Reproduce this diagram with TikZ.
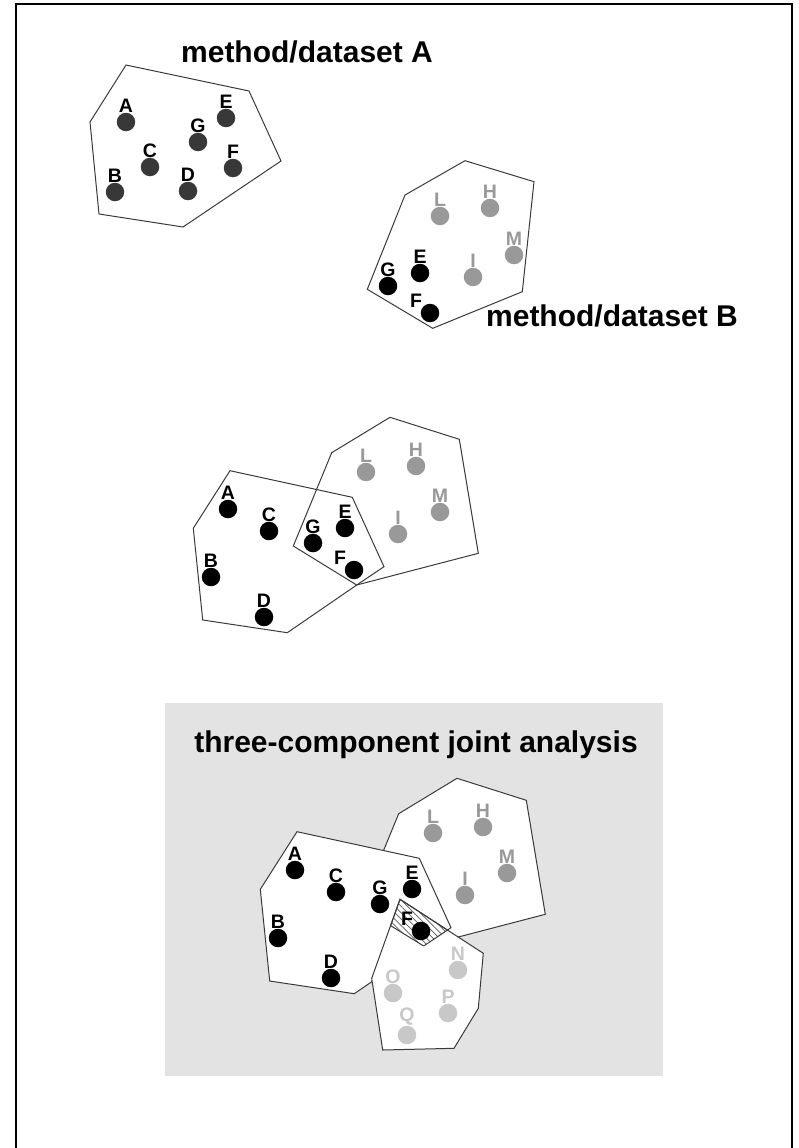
\documentclass[tikz,border=0pt]{standalone}
\usepackage{fontspec}
\setmainfont{Liberation Sans}
\usetikzlibrary{patterns.meta}
\definecolor{dotdark}{HTML}{383838}
\definecolor{dotmid}{HTML}{999999}
\definecolor{dotlight}{HTML}{C8C8C8}
\definecolor{panel}{HTML}{E3E3E3}
\definecolor{edge}{HTML}{3A3A3A}
\tikzstyle{hull} = [draw=edge, line width=1pt]
\tikzstyle{dot}  = [circle, minimum size=18.5pt, inner sep=0pt]
\tikzstyle{dotk} = [dot, fill=black]
\tikzstyle{dotd} = [dot, fill=dotdark]
\tikzstyle{dotg} = [dot, fill=dotmid]
\tikzstyle{dotl} = [dot, fill=dotlight]
\tikzstyle{lbl}  = [font=\bfseries\fontsize{19.5}{22}\selectfont, inner sep=0pt]
\tikzstyle{title} = [font=\bfseries\fontsize{30}{36}\selectfont, inner sep=0pt, anchor=base]
\tikzstyle{hatch} = [pattern={Lines[angle=-45, distance=4.5pt, line width=0.7pt]}, pattern color=black!65]

% hulls of the joint figure (middle panel frame)
\newcommand{\hullA}{(230,470.7) -- (352.3,497.3) -- (384,566.7) -- (356.7,585) -- (287.3,632.7) -- (202.7,620) -- (193.3,528.3) -- cycle}
\newcommand{\hullB}{(390,417.3) -- (459.3,439.3) -- (478.3,553.3) -- (356.7,585) -- (293.3,546) -- (331.7,452.7) -- cycle}
\newcommand{\hullC}{(333,538.3) -- (416.3,592.3) -- (411.3,647.3) -- (387,687.3) -- (315.7,689) -- (304.7,617.3) -- cycle}

\begin{document}
\begin{tikzpicture}[x=1pt, y=-1pt]

	\useasboundingbox (0,0) rectangle (798,1148);
	\draw[line width=1.3pt] (16,1148) -- (16,4) -- (792,4) -- (792,1148);

	% method A
	\node[title] (titleA) at (307,63) {method/dataset A};
	\draw[hull] (126,65) -- (249,91) -- (281,161) -- (183,227) -- (99,214) -- (90,122) -- cycle;
	\foreach \n/\x/\y in {A/126/122, E/226/118, G/198/142, C/150/167, F/233/168, B/115/192, D/188/191}
		\node[dotd, label={[lbl]above:\n}] (t\n) at (\x,\y) {};

	% method B
	\node[title] (titleB) at (612,326) {method/dataset B};
	\draw[hull] (465,160.7) -- (534,181.7) -- (522.3,291.7) -- (432.7,328.3) -- (367.3,289.3) -- (405,195) -- cycle;
	\foreach \n/\x/\y in {L/440/216, H/490/208, M/514/255, I/473/277}
		\node[dotg, label={[lbl, dotmid]above:\n}] (u\n) at (\x,\y) {};
	\foreach \n/\x/\y in {E/420/273, G/388/286}
		\node[dotk, label={[lbl]above:\n}] (u\n) at (\x,\y) {};
	\node[dotk, label={[lbl]145:F}] (uF) at (430,313) {};

	% overlap of A and B
	\draw[hull] \hullA;
	\draw[hull] \hullB;
	\foreach \n/\x/\y in {A/228/509, C/269/531, G/313/543, E/345/528, B/211/577, D/264/617}
		\node[dotk, label={[lbl]above:\n}] (m\n) at (\x,\y) {};
	\node[dotk, label={[lbl]145:F}] (mF) at (354,570) {};
	\foreach \n/\x/\y in {L/366/472, H/416/466, M/440/512, I/398/534}
		\node[dotg, label={[lbl, dotmid]above:\n}] (m\n) at (\x,\y) {};

	% three-component joint analysis
	\fill[panel] (165,703) rectangle (663,1076);
	\node[title] (titleJ) at (416,752) {three-component joint analysis};
	\begin{scope}[shift={(67,361)}]
		\draw[hull, fill=white] \hullB;
		\draw[hull, fill=white] \hullA;
		\draw[hull, fill=white] \hullC;
		\begin{scope}
			\clip \hullA; \clip \hullB;
			\fill[hatch] \hullC;
			\draw[hull] \hullC;
		\end{scope}
		\begin{scope}
			\clip \hullB; \clip \hullC;
			\draw[hull] \hullA;
		\end{scope}
		\begin{scope}
			\clip \hullA; \clip \hullC;
			\draw[hull] \hullB;
		\end{scope}
		\foreach \n/\x/\y in {A/228/509, C/269/531, G/313/543, E/345/528, B/211/577, D/264/617}
			\node[dotk, label={[lbl]above:\n}] (b\n) at (\x,\y) {};
		\node[dotk, label={[lbl]145:F}] (bF) at (354,570) {};
		\foreach \n/\x/\y in {L/366/472, H/416/466, M/440/512, I/398/534}
			\node[dotg, label={[lbl, dotmid]above:\n}] (b\n) at (\x,\y) {};
		\foreach \n/\x/\y in {N/391/609, O/326/632, P/381/652, Q/340/674}
			\node[dotl, label={[lbl, dotlight]above:\n}] (b\n) at (\x,\y) {};
	\end{scope}

\end{tikzpicture}
\end{document}
